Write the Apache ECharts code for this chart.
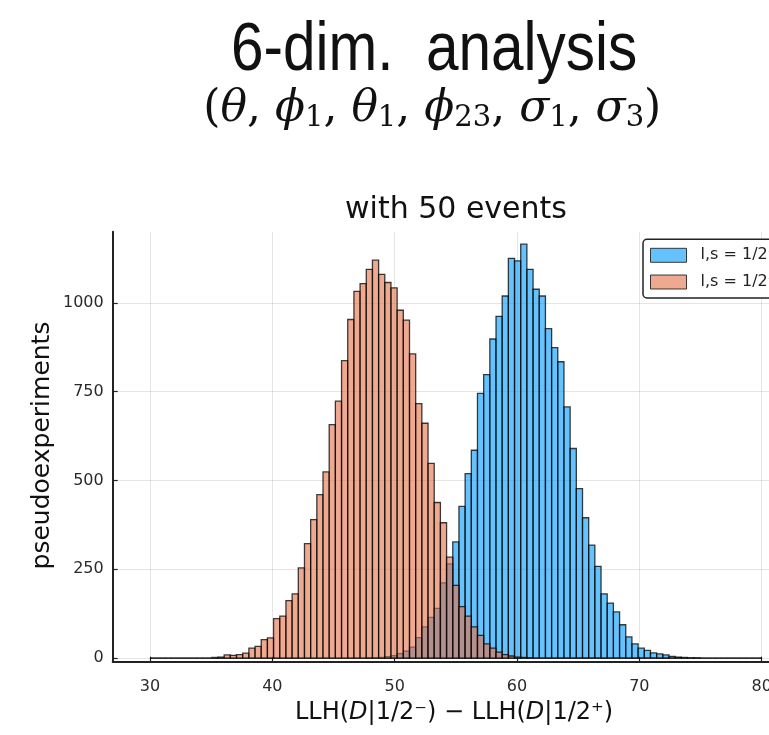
<!DOCTYPE html>
<html>
<head>
<meta charset="utf-8">
<script src="https://cdn.jsdelivr.net/npm/echarts@6/dist/echarts.min.js"></script>
<style>
  html, body { margin: 0; padding: 0; background: #fff; overflow: hidden; }
  #chart { width: 769px; height: 735px; }
</style>
</head>
<body>
<div id="chart"></div>
<script>
// Binning of the log-likelihood differences: equal-width bins spanning 30–80
const binStart = 30;
const binEnd = 80;
const binCount = 99;

const xTicks = [30, 40, 50, 60, 70, 80];
const yTicks = [0, 250, 500, 750, 1000];

const seriesNames = ['l,s = 1/2⁺', 'l,s = 1/2⁻'];

// Pseudoexperiment counts per bin, hypothesis 1/2+
const countsPlus = [
  0, 0, 0, 0, 0, 0, 0, 0, 0, 0,
  0, 0, 0, 0, 0, 0, 0, 0, 0, 0,
  0, 0, 0, 0, 0, 0, 0, 0, 0, 0,
  0, 0, 0, 0, 0, 1, 1, 2, 4, 7,
  13, 20, 31, 58, 88, 115, 140, 212, 265, 327,
  427, 519, 585, 745, 798, 898, 962, 1019, 1125, 1118,
  1165, 1094, 1038, 1019, 927, 874, 834, 707, 590, 477,
  395, 318, 258, 181, 155, 130, 94, 60, 40, 28,
  22, 15, 12, 9, 5, 3, 2, 1, 1, 0,
  0, 0, 0, 0, 0, 0, 0, 0, 0
];

// Pseudoexperiment counts per bin, hypothesis 1/2-
const countsMinus = [
  0, 0, 0, 0, 0, 0, 0, 0, 0, 0,
  2, 3, 9, 8, 10, 14, 28, 33, 52, 57,
  111, 118, 162, 181, 254, 322, 390, 460, 524, 657,
  723, 837, 953, 1032, 1054, 1094, 1120, 1080, 1057, 1042,
  979, 951, 856, 716, 661, 548, 438, 381, 284, 205,
  145, 118, 88, 64, 40, 28, 17, 10, 6, 3,
  2, 1, 0, 0, 0, 0, 0, 0, 0, 0,
  0, 0, 0, 0, 0, 0, 0, 0, 0, 0,
  0, 0, 0, 0, 0, 0, 0, 0, 0, 0,
  0, 0, 0, 0, 0, 0, 0, 0, 0
];

const fillPlus = 'rgba(0,154,250,0.6)';
const fillMinus = 'rgba(227,111,71,0.6)';
const barStroke = 'rgba(0,0,0,0.75)';
const FONT = 'DejaVu Sans';

const binWidth = (binEnd - binStart) / binCount;
function toRows(counts) {
  return counts.map((c, k) => [binStart + k * binWidth, binStart + (k + 1) * binWidth, c]);
}

function barRenderer(fill) {
  return function (params, api) {
    const top = api.coord([api.value(0), api.value(2)]);
    const base = api.coord([api.value(1), 0]);
    return {
      type: 'rect',
      shape: { x: top[0], y: top[1], width: base[0] - top[0], height: base[1] - top[1] },
      style: { fill: fill, stroke: barStroke, lineWidth: 1.3 }
    };
  };
}

const chart = echarts.init(document.getElementById('chart'), null, { renderer: 'canvas' });

chart.setOption({
  backgroundColor: '#fff',
  animation: false,
  grid: { left: 112.7, top: 231.7, width: 686.3, height: 430, outerBoundsMode: 'none', containLabel: false },
  xAxis: {
    type: 'value',
    min: 26.95,
    max: 83.05,
    axisLine: { onZero: false, lineStyle: { color: '#222', width: 2 } },
    axisTick: { inside: true, length: 5, customValues: xTicks, lineStyle: { color: '#222', width: 1.2 } },
    axisLabel: { customValues: xTicks, margin: 17, fontSize: 16, fontFamily: FONT, color: '#2a2a2a', formatter: v => String(v) },
    splitLine: { show: true, lineStyle: { color: 'rgba(0,0,0,0.1)', width: 1 } }
  },
  yAxis: {
    type: 'value',
    min: -10,
    max: 1200,
    axisLine: { show: true, onZero: false, lineStyle: { color: '#222', width: 2 } },
    axisTick: { show: true, inside: true, length: 5, customValues: yTicks, lineStyle: { color: '#222', width: 1.2 } },
    axisLabel: { customValues: yTicks, margin: 9, fontSize: 16, fontFamily: FONT, color: '#2a2a2a', formatter: v => String(v) },
    splitLine: { show: true, lineStyle: { color: 'rgba(0,0,0,0.1)', width: 1 } }
  },
  legend: {
    orient: 'vertical',
    left: 643,
    top: 239.3,
    padding: [8, 10, 8, 7],
    itemWidth: 36,
    itemHeight: 14,
    itemGap: 10.7,
    backgroundColor: '#fff',
    borderColor: '#222',
    borderWidth: 1.5,
    borderRadius: 4,
    selectedMode: false,
    textStyle: { fontSize: 16, fontFamily: FONT, color: '#222', padding: [0, 0, 0, 9] },
    data: [
      { name: seriesNames[0], icon: 'rect', itemStyle: { color: fillPlus, borderColor: barStroke, borderWidth: 1 } },
      { name: seriesNames[1], icon: 'rect', itemStyle: { color: fillMinus, borderColor: barStroke, borderWidth: 1 } }
    ]
  },
  series: [
    {
      name: seriesNames[0],
      type: 'custom',
      renderItem: barRenderer(fillPlus),
      encode: { x: [0, 1], y: 2 },
      data: toRows(countsPlus),
      itemStyle: { color: fillPlus }
    },
    {
      name: seriesNames[1],
      type: 'custom',
      renderItem: barRenderer(fillMinus),
      encode: { x: [0, 1], y: 2 },
      data: toRows(countsMinus),
      itemStyle: { color: fillMinus }
    }
  ],
  graphic: [
    {
      type: 'text', x: 434.2, y: 51.5, scaleX: 0.86,
      style: { text: '6-dim.  analysis', font: '68px "Liberation Sans"', fill: '#111', align: 'center', verticalAlign: 'middle' }
    },
    {
      type: 'text', x: 432.3, y: 110,
      style: {
        text: '{p|(}{g|θ}{p|, }{g|ϕ}{s|1}{p|, }{g|θ}{s|1}{p|, }{g|ϕ}{s|23}{p|, }{g|σ}{s|1}{p|, }{g|σ}{s|3}{p|)}',
        align: 'center', verticalAlign: 'middle', fill: '#111',
        rich: {
          p: { font: '44px "DejaVu Serif"', fill: '#111', lineHeight: 46 },
          g: { font: 'italic 44px "DejaVu Serif"', fill: '#111', lineHeight: 46 },
          s: { font: '29px "DejaVu Serif"', fill: '#111', lineHeight: 18, verticalAlign: 'bottom' }
        }
      }
    },
    {
      type: 'text', x: 456, y: 210.3,
      style: { text: 'with 50 events', font: '30px "DejaVu Sans"', fill: '#111', align: 'center', verticalAlign: 'middle' }
    },
    {
      type: 'text', x: 42, y: 445.5, rotation: Math.PI / 2,
      style: { text: 'pseudoexperiments', font: '25px "DejaVu Sans"', fill: '#111', align: 'center', verticalAlign: 'middle' }
    },
    {
      type: 'text', x: 454, y: 712.5,
      style: {
        text: '{n|LLH(}{i|D}{n||1/2⁻) − LLH(}{i|D}{n||1/2⁺)}',
        align: 'center', verticalAlign: 'middle', fill: '#111',
        rich: {
          n: { font: '24px "DejaVu Sans"', fill: '#111' },
          i: { font: 'italic 24px "DejaVu Sans"', fill: '#111' }
        }
      }
    }
  ]
});
</script>
</body>
</html>
